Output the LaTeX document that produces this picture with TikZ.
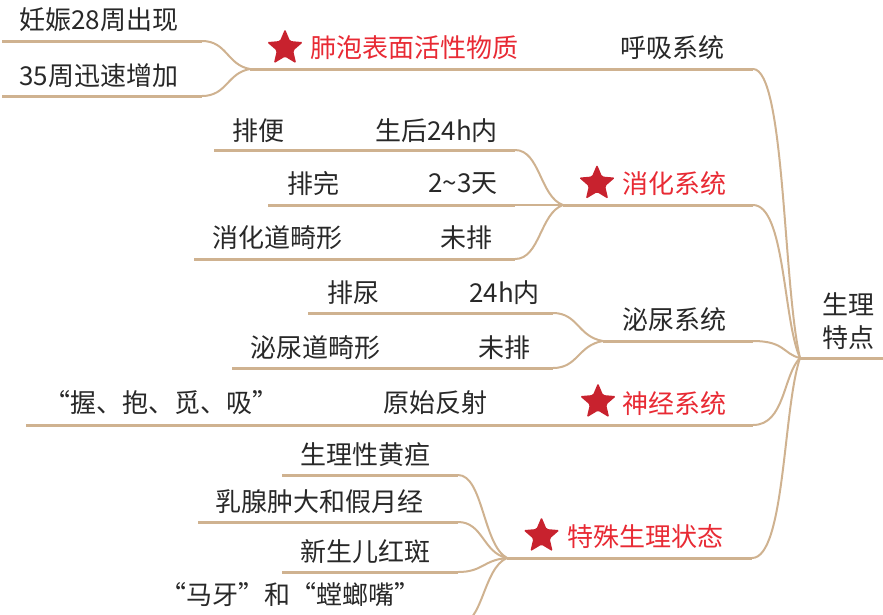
\documentclass[tikz,border=0pt]{standalone}
\usepackage{fontspec}
\newfontfamily\cjk{Noto Sans CJK SC}
\usetikzlibrary{shapes.geometric}
\definecolor{branch}{RGB}{207,178,144}
\definecolor{hot}{RGB}{232,42,52}
\definecolor{starred}{RGB}{200,34,46}
\definecolor{ink}{RGB}{40,40,40}
\begin{document}
\begin{tikzpicture}[x=1pt,y=-1pt,
  txt/.style={anchor=west, inner sep=0pt, text=ink, font=\cjk\fontsize{26}{33}\selectfont},
  hottxt/.style={txt, text=hot},
  bar/.style={draw=branch, line width=3pt},
  link/.style={draw=branch, line width=2pt},
  starmark/.style={star, star points=5, star point ratio=2.2, fill=starred, minimum size=38pt, inner sep=0pt, rounded corners=1.5pt}
]
\useasboundingbox (0,0) rectangle (883,614);
\clip (0,0) rectangle (883,614);

% root
\coordinate (R) at (800,358);
\coordinate (Rend) at (883,358);
\node[txt, align=left] (root) at (822,321.5) {生理\\特点};
\draw[bar] (R) -- (Rend);

% 呼吸系统
\coordinate (A) at (753,69);
\coordinate (B0) at (250,69);
\node[txt] (huxi) at (620,48) {呼吸系统};
\node[starmark] (s1) at (285,48) {};
\node[hottxt] (feipao) at (310,48) {肺泡表面活性物质};
\coordinate (a1s) at (2,41); \coordinate (a1e) at (202,41);
\coordinate (a2s) at (2,96); \coordinate (a2e) at (202,96);
\node[txt] (a1) at (19,20) {妊娠28周出现};
\node[txt] (a2) at (19,76) {35周迅速增加};
\draw[bar] (B0) -- (A);
\draw[bar] (a1s) -- (a1e);
\draw[bar] (a2s) -- (a2e);
\draw[link] (a1e) .. controls (227,41) and (227,65) .. (B0);
\draw[link] (a2e) .. controls (227,96) and (227,73) .. (B0);
\draw[link] (A) .. controls (785,69) and (783,286) .. (R);

% 消化系统
\coordinate (C) at (753,205);
\coordinate (C0) at (563,205);
\node[starmark] (s2) at (597,183.5) {};
\node[hottxt] (xiaohua) at (622,184) {消化系统};
\coordinate (c1s) at (214,150); \coordinate (c1e) at (515,150);
\coordinate (c2s) at (268,205); \coordinate (c2e) at (515,205);
\coordinate (c3s) at (194,259); \coordinate (c3e) at (515,259);
\node[txt] (c1a) at (232,131) {排便};
\node[txt] (c1b) at (375,131) {生后24h内};
\node[txt] (c2a) at (287,184) {排完};
\node[txt] (c2b) at (428,184) {2\textasciitilde3天};
\node[txt] (c3a) at (212,238) {消化道畸形};
\node[txt] (c3b) at (440,238) {未排};
\draw[bar] (c1s) -- (c1e);
\draw[bar] (c2s) -- (c2e);
\draw[bar] (c3s) -- (c3e);
\draw[bar] (C0) -- (C);
\draw[link] (c1e) .. controls (540,150) and (540,197) .. (C0);
\draw[link] (c2e) -- (C0);
\draw[link] (c3e) .. controls (540,259) and (540,213) .. (C0);
\draw[link] (C) .. controls (785,205) and (783,320) .. (R);

% 泌尿系统
\coordinate (D) at (753,341);
\coordinate (D0) at (603,341);
\node[txt] (miniao) at (622,320) {泌尿系统};
\coordinate (d1s) at (308,313); \coordinate (d1e) at (553,313);
\coordinate (d2s) at (232,368); \coordinate (d2e) at (553,368);
\node[txt] (d1a) at (327,293) {排尿};
\node[txt] (d1b) at (469,293) {24h内};
\node[txt] (d2a) at (250,348) {泌尿道畸形};
\node[txt] (d2b) at (478,348) {未排};
\draw[bar] (d1s) -- (d1e);
\draw[bar] (d2s) -- (d2e);
\draw[bar] (D0) -- (D);
\draw[link] (d1e) .. controls (578,313) and (578,337) .. (D0);
\draw[link] (d2e) .. controls (578,368) and (578,345) .. (D0);
\draw[link] (D) .. controls (785,341) and (783,354) .. (R);

% 神经系统
\coordinate (E) at (753,425);
\coordinate (E0) at (26,425);
\node[starmark] (s4) at (598,402) {};
\node[hottxt] (shenjing) at (622,404) {神经系统};
\node[txt] (e1b) at (383,403) {原始反射};
\node[txt] (e1a) at (44,403) {“握、抱、觅、吸”};
\draw[bar] (E0) -- (E);
\draw[link] (E) .. controls (785,425) and (783,375) .. (R);

% 特殊生理状态
\coordinate (F) at (752,558);
\coordinate (F0) at (507,558);
\node[starmark] (s5) at (541.5,536) {};
\node[hottxt] (teshu) at (567,537) {特殊生理状态};
\coordinate (f1s) at (282,475); \coordinate (f1e) at (458,475);
\coordinate (f2s) at (198,522); \coordinate (f2e) at (458,522);
\coordinate (f3s) at (282,572); \coordinate (f3e) at (458,572);
\coordinate (f4s) at (155,625); \coordinate (f4e) at (458,625);
\node[txt] (f1) at (300,455) {生理性黄疸};
\node[txt] (f2) at (215,502) {乳腺肿大和假月经};
\node[txt] (f3) at (300,552) {新生儿红斑};
\node[txt] (f4) at (160,595) {“马牙”和“螳螂嘴”};
\draw[bar] (f1s) -- (f1e);
\draw[bar] (f2s) -- (f2e);
\draw[bar] (f3s) -- (f3e);
\draw[bar] (f4s) -- (f4e);
\draw[bar] (F0) -- (F);
\draw[link] (f1e) .. controls (483,475) and (483,545) .. (F0);
\draw[link] (f2e) .. controls (483,522) and (483,553) .. (F0);
\draw[link] (f3e) .. controls (483,572) and (483,560) .. (F0);
\draw[link] (f4e) .. controls (483,625) and (483,568) .. (F0);
\draw[link] (F) .. controls (785,558) and (783,408) .. (R);
\end{tikzpicture}
\end{document}
